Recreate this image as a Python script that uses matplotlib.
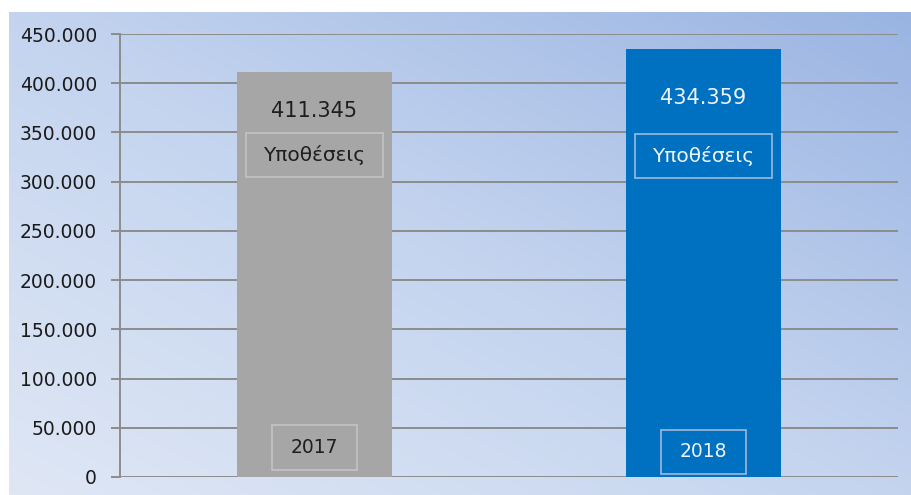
import numpy as np
import matplotlib
matplotlib.use("Agg")
import matplotlib.pyplot as plt
from matplotlib.colors import LinearSegmentedColormap
from matplotlib.patches import Rectangle
from matplotlib.ticker import FuncFormatter

# data
years = ["2017", "2018"]
cases = [411345, 434359]
case_label = "Υποθέσεις"
bar_colors = ["#a6a6a6", "#0070c0"]
text_colors = ["#1e1e1e", "#eef3fa"]
box_edges = ["#c4c4c4", "#9fb9d9"]

# label positions (data units)
value_y = [371800, 385000]
name_y = [327000, 326000]
year_y = [29500, 25400]

fig = plt.figure(figsize=(9.12, 4.95), dpi=100)

# gradient background panel
bg = fig.add_axes([9 / 912, 0, 903 / 912, 483 / 495])
gx, gy = np.meshgrid(np.linspace(0, 1, 300), np.linspace(0, 1, 200))
t = (gx + gy) / 2
cmap = LinearSegmentedColormap.from_list("bg", ["#dfe7f5", "#c4d4ef", "#9ab4e2"])
bg.imshow(t, cmap=cmap, origin="lower", aspect="auto", extent=[0, 1, 0, 1])
bg.axis("off")

ax = fig.add_axes([120 / 912, 1 - 477 / 495, 778 / 912, (477 - 34) / 495])
ax.patch.set_alpha(0)

x = np.arange(len(years))
ax.bar(x, cases, width=0.4, color=bar_colors, zorder=3)

ax.set_xlim(-0.5, 1.5)
ax.set_ylim(0, 450000)
ax.set_yticks(np.arange(0, 450001, 50000))
ax.yaxis.set_major_formatter(FuncFormatter(lambda v, p: f"{int(v):,}".replace(",", ".")))
ax.grid(axis="y", color="#8c8c8c", linewidth=1.4, zorder=0)
ax.set_axisbelow(True)
ax.set_xticks([])
for s in ["top", "right", "bottom"]:
    ax.spines[s].set_visible(False)
ax.spines["left"].set_color("#8c8c8c")
ax.spines["left"].set_linewidth(1.4)
ax.tick_params(axis="y", length=6.5, width=1.4, color="#8c8c8c",
               labelsize=13.5, labelcolor="#1a1a1a", pad=10)

# boxes around the labels, like the excel callouts
name_w, name_h = 0.352, 44700
year_w, year_h = 0.221, 45700

for i in range(len(years)):
    ax.text(x[i], value_y[i], f"{cases[i]:,}".replace(",", "."), ha="center", va="center",
            fontsize=15, color=text_colors[i], zorder=4)
    ax.text(x[i], name_y[i], case_label, ha="center", va="center", fontsize=14.5,
            color=text_colors[i], zorder=4)
    ax.add_patch(Rectangle((x[i] - name_w / 2, name_y[i] - name_h / 2), name_w, name_h,
                           fill=False, ec=box_edges[i], lw=1.2, zorder=4))
    ax.text(x[i], year_y[i], years[i], ha="center", va="center", fontsize=13.5,
            color=text_colors[i], zorder=4)
    ax.add_patch(Rectangle((x[i] - year_w / 2, year_y[i] - year_h / 2), year_w, year_h,
                           fill=False, ec=box_edges[i], lw=1.2, zorder=4))

fig.savefig("out.png", dpi=100)
